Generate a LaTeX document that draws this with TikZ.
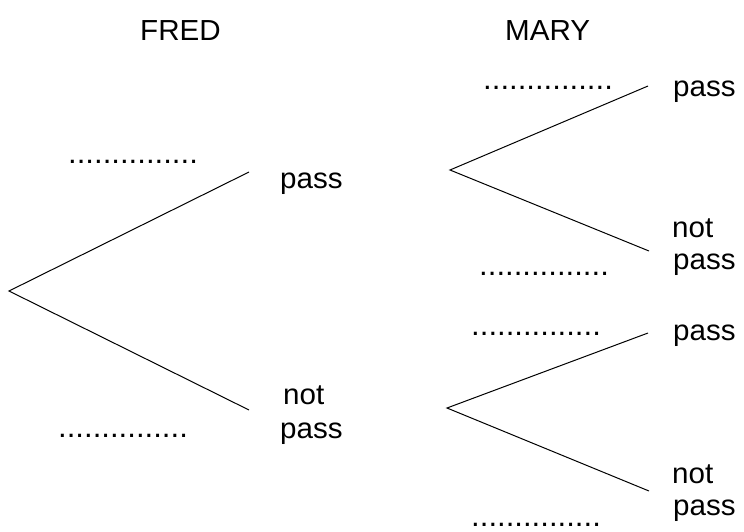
\documentclass[tikz,border=0pt]{standalone}
\usepackage{fontspec}
\setmainfont[FakeStretch=1.02]{Liberation Sans}
\begin{document}
\begin{tikzpicture}[x=1pt,y=-1pt,
  lbl/.style={anchor=base west,inner sep=0pt,font=\fontsize{29}{34}\selectfont},
  dots/.style={anchor=base west,inner sep=0pt,font=\fontsize{30.5}{34}\selectfont},
  br/.style={line width=1pt}]
\useasboundingbox (0,0) rectangle (744,531);
% headings
\node[lbl] (fred) at (140,40) {FRED};
\node[lbl] (mary) at (505,40) {MARY};
% branch points
\coordinate (r) at (9,291);
\coordinate (fp) at (249,172);
\coordinate (fn) at (249,410);
\coordinate (m1) at (450,170);
\coordinate (m1p) at (648,86);
\coordinate (m1n) at (649,251);
\coordinate (m2) at (447,408);
\coordinate (m2p) at (648,333);
\coordinate (m2n) at (649,491);
\draw[br] (fp) -- (r) -- (fn);
\draw[br] (m1p) -- (m1) -- (m1n);
\draw[br] (m2p) -- (m2) -- (m2n);
% outcome labels
\node[lbl] (tfp) at (280,188) {pass};
\node[lbl] (tfn1) at (283,404) {not};
\node[lbl] (tfn2) at (280,438) {pass};
\node[lbl] (tm1p) at (673,96) {pass};
\node[lbl] (tm1n1) at (672,237) {not};
\node[lbl] (tm1n2) at (673,269) {pass};
\node[lbl] (tm2p) at (673,340) {pass};
\node[lbl] (tm2n1) at (672,483) {not};
\node[lbl] (tm2n2) at (673,515) {pass};
% probability blanks
\node[dots] (d1) at (68,163) {...............};
\node[dots] (d2) at (58,437) {...............};
\node[dots] (d3) at (483,89) {...............};
\node[dots] (d4) at (479,275) {...............};
\node[dots] (d5) at (471,335) {...............};
\node[dots] (d6) at (471,526) {...............};
\end{tikzpicture}
\end{document}
